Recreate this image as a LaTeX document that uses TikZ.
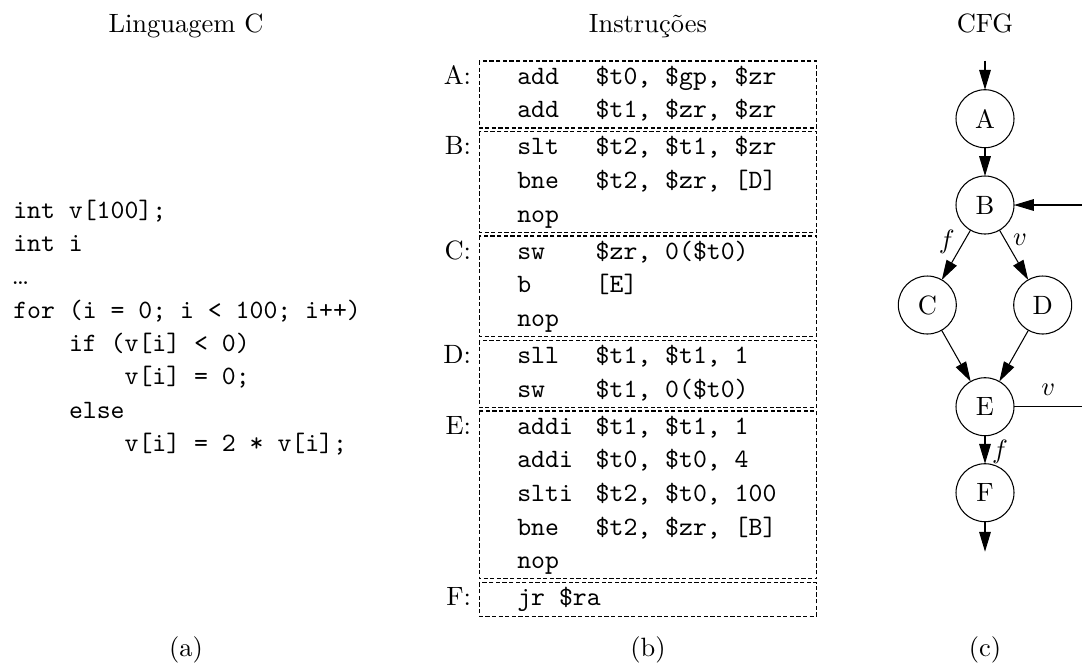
\documentclass[tikz,border=0pt]{standalone}
\usepackage{fontspec}
\usetikzlibrary{arrows.meta}

\begin{document}
\begin{tikzpicture}[x=0.37764pt, y=-0.37764pt,
  every node/.style={inner sep=0pt, outer sep=0pt},
  title/.style={anchor=base, font=\rmfamily},
  code/.style={anchor=base west, font=\ttfamily},
  blklabel/.style={anchor=base east, font=\rmfamily},
  dashbox/.style={draw, line width=0.4pt, dash pattern=on 1.6pt off 0.9pt},
  blk/.style={circle, draw, line width=0.4pt, minimum size=21.9pt, inner sep=0pt},
  arr/.style={line width=0.4pt, -{Triangle[length=7.5pt,width=4.4pt]}},
  edge/.style={line width=0.4pt},
  lbl/.style={anchor=center}]

\useasboundingbox (0,0) rectangle (1082,664);

% column titles and captions
\node[title] (tC)   at (186,32.5) {Linguagem C};
\node[title] (tIns) at (648,32.5) {Instruções};
\node[title] (tCFG) at (985,32.5) {CFG};
\node[title] (capA) at (186,656.7) {(a)};
\node[title] (capB) at (648,656.7) {(b)};
\node[title] (capC) at (985,656.7) {(c)};

% (a) source code
\node[code] (c1) at (13.3,218.2) {int v[100];};
\node[code] (c2) at (13.3,251.5) {int i};
\node[anchor=base west, font=\rmfamily] (c3) at (11.5,284.8) {\ldots};
\node[code] (c4) at (13.3,318.2) {for (i = 0; i < 100; i++)};
\node[code] (c5) at (69.0,351.5) {if (v[i] < 0)};
\node[code] (c6) at (124.6,384.8) {v[i] = 0;};
\node[code] (c7) at (69.0,418.2) {else};
\node[code] (c8) at (124.6,451.5) {v[i] = 2 * v[i];};

% (b) basic blocks
\draw[dashbox] (479.3,61.0)  rectangle (816.7,128.0);
\draw[dashbox] (479.3,131.7) rectangle (816.7,232.3);
\draw[dashbox] (479.3,236.0) rectangle (816.7,336.6);
\draw[dashbox] (479.3,340.3) rectangle (816.7,407.3);
\draw[dashbox] (479.3,411.0) rectangle (816.7,578.8);
\draw[dashbox] (479.3,582.5) rectangle (816.7,616.2);

\node[blklabel] (lA) at (471,84.2)  {A:};
\node[blklabel] (lB) at (471,154.9) {B:};
\node[blklabel] (lC) at (471,259.2) {C:};
\node[blklabel] (lD) at (471,363.5) {D:};
\node[blklabel] (lE) at (471,434.2) {E:};
\node[blklabel] (lF) at (471,605.7) {F:};

\node[code] (a1m) at (517.3,84.2)  {add};  \node[code] (a1o) at (595.7,84.2)  {\$t0, \$gp, \$zr};
\node[code] (a2m) at (517.3,117.8) {add};  \node[code] (a2o) at (595.7,117.8) {\$t1, \$zr, \$zr};

\node[code] (b1m) at (517.3,154.9) {slt};  \node[code] (b1o) at (595.7,154.9) {\$t2, \$t1, \$zr};
\node[code] (b2m) at (517.3,188.5) {bne};  \node[code] (b2o) at (595.7,188.5) {\$t2, \$zr, [D]};
\node[code] (b3m) at (517.3,222.1) {nop};

\node[code] (d1m) at (517.3,259.2) {sw};   \node[code] (d1o) at (595.7,259.2) {\$zr, 0(\$t0)};
\node[code] (d2m) at (517.3,292.8) {b};    \node[code] (d2o) at (595.7,292.8) {[E]};
\node[code] (d3m) at (517.3,326.4) {nop};

\node[code] (e1m) at (517.3,363.5) {sll};  \node[code] (e1o) at (595.7,363.5) {\$t1, \$t1, 1};
\node[code] (e2m) at (517.3,397.1) {sw};   \node[code] (e2o) at (595.7,397.1) {\$t1, 0(\$t0)};

\node[code] (f1m) at (517.3,434.2) {addi}; \node[code] (f1o) at (595.7,434.2) {\$t1, \$t1, 1};
\node[code] (f2m) at (517.3,467.8) {addi}; \node[code] (f2o) at (595.7,467.8) {\$t0, \$t0, 4};
\node[code] (f3m) at (517.3,501.4) {slti}; \node[code] (f3o) at (595.7,501.4) {\$t2, \$t0, 100};
\node[code] (f4m) at (517.3,535.0) {bne};  \node[code] (f4o) at (595.7,535.0) {\$t2, \$zr, [B]};
\node[code] (f5m) at (517.3,568.6) {nop};

\node[code] (g1) at (517.3,605.7) {jr \$ra};

% (c) control flow graph
\node[blk] (A) at (985,118.7)  {A};
\node[blk] (B) at (985,205.0)  {B};
\node[blk] (C) at (927.3,305.0) {C};
\node[blk] (D) at (1042.7,305.0) {D};
\node[blk] (E) at (985,406.7)  {E};
\node[blk] (F) at (985,492.7)  {F};

\coordinate (entry) at (985,60.7);
\coordinate (exit)  at (985,551.7);
\coordinate (loopE) at (1082,406.7);
\coordinate (loopB) at (1082,205.0);

\draw[arr] (entry) -- (A);
\draw[arr] (A) -- (B);
\draw[arr] (B) -- (C);
\draw[arr] (B) -- (D);
\draw[arr] (C) -- (E);
\draw[arr] (D) -- (E);
\draw[arr] (E) -- (F);
\draw[arr] (F) -- (exit);
\draw[edge] (E) -- (loopE);
\draw[arr] (loopB) -- (B);

\node[lbl] (fBC) at (946.7,241.7) {$f$};
\node[lbl] (vBD) at (1020,240)    {$v$};
\node[lbl] (vE)  at (1048.3,390)  {$v$};
\node[lbl] (fEF) at (1000,451.7)  {$f$};

\end{tikzpicture}
\end{document}
